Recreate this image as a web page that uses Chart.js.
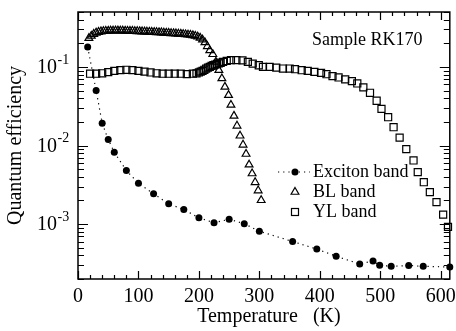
<!DOCTYPE html>
<html>
<head>
<meta charset="utf-8">
<script src="https://cdn.jsdelivr.net/npm/chart.js"></script>
<style>
  body { margin: 0; background: #fff; }
  canvas { display: block; }
</style>
</head>
<body>
<canvas id="myChart" width="456" height="331"></canvas>
<script>
// Exciton band (filled dots, dotted line)
var excitonTemp = [16, 30, 40, 50, 60, 80, 100, 125, 150, 175, 200, 225, 250, 275, 300, 355, 395, 427, 466, 488, 499, 518, 547, 571, 615];
var excitonQE = [0.179, 0.050, 0.0192, 0.0119, 0.0082, 0.0048, 0.0033, 0.00243, 0.00181, 0.00153, 0.00120, 0.00104, 0.00115, 0.00101, 0.00081,
                 0.00060, 0.00048, 0.00039, 0.00031, 0.00034, 0.00030, 0.00029, 0.000297, 0.00029, 0.000284];

// BL band (open triangles)
var blTemp = [18, 22, 26, 30, 34, 38, 42, 46, 50, 54, 58, 62, 66, 70, 74, 78, 82, 86, 90, 94, 98, 102, 106, 110, 114, 118, 122, 126, 130, 134,
              138, 142, 146, 150, 154, 158, 162, 166, 170, 174, 178, 182, 186, 190, 194, 198, 202, 206, 210, 214, 218,
              223, 228, 233, 238, 243, 249, 253, 258, 263, 268, 273, 278, 283, 288, 293, 298, 303];
var blQE = [0.232, 0.248, 0.262, 0.272, 0.278, 0.282, 0.285, 0.287, 0.288, 0.289, 0.289, 0.290, 0.290, 0.289, 0.289, 0.288, 0.287, 0.287, 0.286, 0.285,
            0.284, 0.283, 0.282, 0.281, 0.280, 0.279, 0.278, 0.277, 0.276, 0.275, 0.274, 0.272, 0.271, 0.270, 0.268, 0.267, 0.266, 0.264, 0.263, 0.261,
            0.259, 0.257, 0.255, 0.252, 0.248, 0.242, 0.234, 0.222, 0.205, 0.183, 0.162,
            0.145, 0.116, 0.091, 0.0713, 0.0558, 0.0438, 0.0328, 0.0238, 0.0178, 0.0133, 0.0102, 0.0078, 0.0057, 0.0044, 0.0034, 0.00267, 0.00201];

// YL band (open squares)
var ylTemp = [20, 30, 40, 50, 60, 70, 80, 90, 100, 110, 120, 130, 140, 150, 160, 170, 180, 190,
              196, 200, 203, 206, 209, 212, 215, 218, 221, 224, 227, 230, 233, 236, 240, 246, 253, 262, 272, 281, 289, 299, 306,
              317, 328, 339, 350, 359, 370, 380, 391, 402, 411, 421, 431, 442, 453, 462, 472, 483, 494, 502, 513, 522, 532, 543,
              555, 562, 572, 582, 593, 604, 612];
var ylQE = [0.082, 0.082, 0.083, 0.086, 0.089, 0.091, 0.092, 0.091, 0.089, 0.087, 0.085, 0.083, 0.082, 0.082, 0.082, 0.082, 0.081, 0.082,
            0.083, 0.085, 0.087, 0.089, 0.092, 0.095, 0.098, 0.100, 0.103, 0.105, 0.107, 0.109, 0.111, 0.113, 0.116, 0.119, 0.122, 0.122, 0.121,
            0.116, 0.110, 0.105, 0.100, 0.100, 0.098, 0.0954, 0.0954, 0.0935, 0.0908, 0.089, 0.0865, 0.084, 0.0808, 0.0763, 0.0734, 0.0693,
            0.066, 0.0616, 0.0549, 0.0469, 0.0371, 0.0292, 0.0229, 0.0171, 0.0126, 0.0090, 0.00645, 0.00458, 0.00341, 0.00255, 0.0019,
            0.00132, 0.00092];

// axis ticks
var xTickValues = [0, 100, 200, 300, 400, 500, 600];
var yDecades = [0.001, 0.01, 0.1];
var yDecadeExp = ['-3', '-2', '-1'];
var legendNames = ['Exciton band', 'BL band', 'YL band'];

var serif = '"Liberation Serif", "Times New Roman", serif';

function pairs(xs, ys) {
    return xs.map(function (t, i) { return {x: t, y: ys[i]}; });
}

// frame, inward ticks, y labels, legend and note
var framePlugin = {
    id: 'frame',
    afterDraw: function (chart) {
        var ctx = chart.ctx;
        var a = chart.chartArea;
        var x = chart.scales.x;
        var y = chart.scales.y;
        ctx.save();
        ctx.strokeStyle = '#000';
        ctx.lineWidth = 1.5;
        ctx.strokeRect(a.left, a.top, a.right - a.left, a.bottom - a.top);

        ctx.lineWidth = 1.2;
        ctx.beginPath();
        for (var v = 0; v <= x.max; v += 20) {
            var px = Math.round(x.getPixelForValue(v)) + 0.5;
            var len = v % 100 === 0 ? 8 : 4;
            ctx.moveTo(px, a.bottom); ctx.lineTo(px, a.bottom - len);
            ctx.moveTo(px, a.top); ctx.lineTo(px, a.top + len);
        }
        for (var d = 1e-4; d < 1; d *= 10) {
            for (var m = 1; m <= 9; m++) {
                var val = d * m;
                if (val < y.min || val > y.max) continue;
                var py = Math.round(y.getPixelForValue(val)) + 0.5;
                var l = m === 1 ? 10 : 6;
                ctx.moveTo(a.left, py); ctx.lineTo(a.left + l, py);
                ctx.moveTo(a.right, py); ctx.lineTo(a.right - l, py);
            }
        }
        ctx.stroke();

        // y tick labels 10^n
        ctx.fillStyle = '#000';
        yDecades.forEach(function (dv, i) {
            var py = y.getPixelForValue(dv);
            ctx.font = '20px ' + serif;
            ctx.textAlign = 'right';
            ctx.textBaseline = 'middle';
            ctx.fillText('10', 57, py + 1);
            ctx.font = '14px ' + serif;
            ctx.textAlign = 'left';
            ctx.fillText(yDecadeExp[i], 57.5, py - 7);
        });

        // sample note
        ctx.font = '18px ' + serif;
        ctx.textAlign = 'left';
        ctx.textBaseline = 'middle';
        ctx.fillText('Sample RK170', 312, 40);

        // legend
        var lx = 313, ly = [172, 192, 212], sx = 295;
        ctx.font = '18px ' + serif;
        legendNames.forEach(function (name, i) {
            ctx.fillText(name, lx, ly[i]);
        });
        ctx.setLineDash([1.2, 4]);
        ctx.lineWidth = 1.2;
        ctx.beginPath();
        ctx.moveTo(278, ly[0]); ctx.lineTo(310, ly[0]);
        ctx.stroke();
        ctx.setLineDash([]);
        ctx.beginPath();
        ctx.arc(sx, ly[0], 3.5, 0, Math.PI * 2);
        ctx.fill();
        ctx.lineWidth = 1.2;
        var r = 4.5;
        ctx.beginPath();
        ctx.moveTo(sx, ly[1] - r);
        ctx.lineTo(sx + r * 0.866, ly[1] + r / 2);
        ctx.lineTo(sx - r * 0.866, ly[1] + r / 2);
        ctx.closePath();
        ctx.stroke();
        ctx.strokeRect(sx - 3.5, ly[2] - 3.5, 7, 7);
        ctx.restore();
    }
};

var ctx = document.getElementById('myChart').getContext('2d');
var myChart = new Chart(ctx, {
    type: 'scatter',
    data: {
        datasets: [{
            label: 'Exciton band',
            data: pairs(excitonTemp, excitonQE),
            showLine: true,
            borderColor: '#000',
            borderWidth: 1.2,
            borderDash: [1.2, 4],
            pointStyle: 'circle',
            pointRadius: 3.5,
            pointBackgroundColor: '#000',
            pointBorderWidth: 0,
            clip: 6
        }, {
            label: 'BL band',
            data: pairs(blTemp, blQE),
            pointStyle: 'triangle',
            pointRadius: 4.5,
            pointBackgroundColor: 'rgba(0,0,0,0)',
            pointBorderColor: '#000',
            pointBorderWidth: 1.2,
            clip: 6
        }, {
            label: 'YL band',
            data: pairs(ylTemp, ylQE),
            pointStyle: 'rect',
            pointRadius: 5,
            pointBackgroundColor: 'rgba(0,0,0,0)',
            pointBorderColor: '#000',
            pointBorderWidth: 1.2,
            clip: 6
        }]
    },
    options: {
        responsive: false,
        animation: false,
        layout: {padding: {top: 12, right: 5, left: 0, bottom: 0}},
        plugins: {legend: {display: false}, tooltip: {enabled: false}},
        scales: {
            x: {
                type: 'linear', min: 0, max: 615,
                afterBuildTicks: function (s) { s.ticks = xTickValues.map(function (v) { return {value: v}; }); },
                afterFit: function (s) { s.height = 52; s.paddingLeft = 0; s.paddingRight = 0; },
                grid: {display: false, drawTicks: false},
                border: {display: false},
                ticks: {color: '#000', font: {family: serif, size: 20}, padding: 6, maxRotation: 0, autoSkip: false},
                title: {display: true, text: '  Temperature   (K)', color: '#000', font: {family: serif, size: 20}, padding: {top: 0, bottom: 2}}
            },
            y: {
                type: 'logarithmic', min: 0.0002, max: 0.5,
                afterFit: function (s) { s.width = 78; s.paddingTop = 0; s.paddingBottom = 0; },
                grid: {display: false, drawTicks: false},
                border: {display: false},
                ticks: {display: false},
                title: {display: true, text: 'Quantum efficiency', color: '#000', font: {family: serif, size: 20}, padding: {top: 4, bottom: 0}}
            }
        }
    },
    plugins: [framePlugin]
});
</script>
</body>
</html>
